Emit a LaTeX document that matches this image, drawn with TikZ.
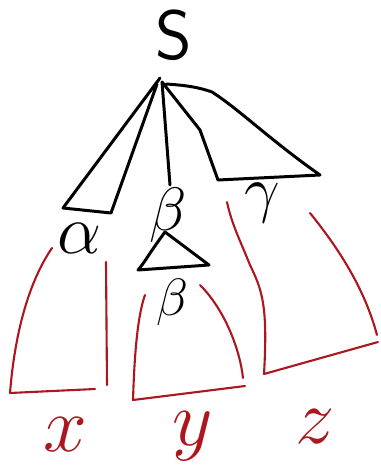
\documentclass[tikz,border=0pt]{standalone}
\usepackage{graphicx}
\usepackage{amsmath}
\begin{document}
\begin{tikzpicture}[x=0.02cm,y=-0.02cm,
  blk/.style={draw=black,line width=1.7pt,line join=round,line cap=round},
  rd/.style={draw=myred,line width=1.2pt,line join=round,line cap=round},
  lbl/.style={inner sep=0pt,font=\fontsize{24.88}{28}\selectfont},
  rlbl/.style={inner sep=0pt,text=myred,font=\fontsize{24.88}{28}\selectfont}]
\definecolor{myred}{RGB}{172,22,30}
\useasboundingbox (0,0) rectangle (381,476);
% labels
\node[lbl] (S) at (174,35) {\scalebox{1.6}{$\mathsf{S}$}};
\node[lbl] (gamma) at (262,203) {\scalebox{1.45}{$\gamma$}};
\node[lbl] (beta1) at (168,215) {\scalebox{1.4}{$\beta$}};
\node[lbl] (alpha) at (80,238) {\scalebox{1.6}{$\alpha$}};
\node[lbl] (beta2) at (172,302) {\scalebox{1.2}{$\beta$}};
\node[rlbl] (x) at (65,435) {\scalebox{1.8}{$x$}};
\node[rlbl] (y) at (193,436) {\scalebox{1.8}{$y$}};
\node[rlbl] (z) at (315,427) {\scalebox{1.8}{$z$}};
% apex
\coordinate (apex) at (160,78);
% alpha triangle
\draw[blk] (apex) -- (63,208) -- (111,213) -- (157,84);
% beta line
\draw[blk] (162,82) -- (170,185);
% gamma triangle
\draw[blk] (162,82) -- (200,130) -- (218,180) -- (320,175)
  .. controls (270,140) and (240,110) .. (212,92)
  .. controls (195,86) and (180,85) .. (166,84);
% small beta triangle
\draw[blk] (165,232) -- (209,265) -- (138,270) .. controls (145,262) and (148,255) .. (165,232);
% x box
\draw[rd] (52,248) .. controls (30,280) and (15,330) .. (10,393) -- (95,389);
\draw[rd] (106,262) -- (107,385);
% y box
\draw[rd] (145,295) .. controls (136,320) and (134,370) .. (133,400) -- (245,386);
\draw[rd] (200,285) .. controls (225,310) and (240,350) .. (243,378);
% z box
\draw[rd] (227,202) .. controls (232,225) and (240,240) .. (250,265)
  .. controls (262,290) and (268,305) .. (264,374) -- (378,342);
\draw[rd] (310,213) .. controls (340,250) and (365,290) .. (377,335);
\end{tikzpicture}
\end{document}
